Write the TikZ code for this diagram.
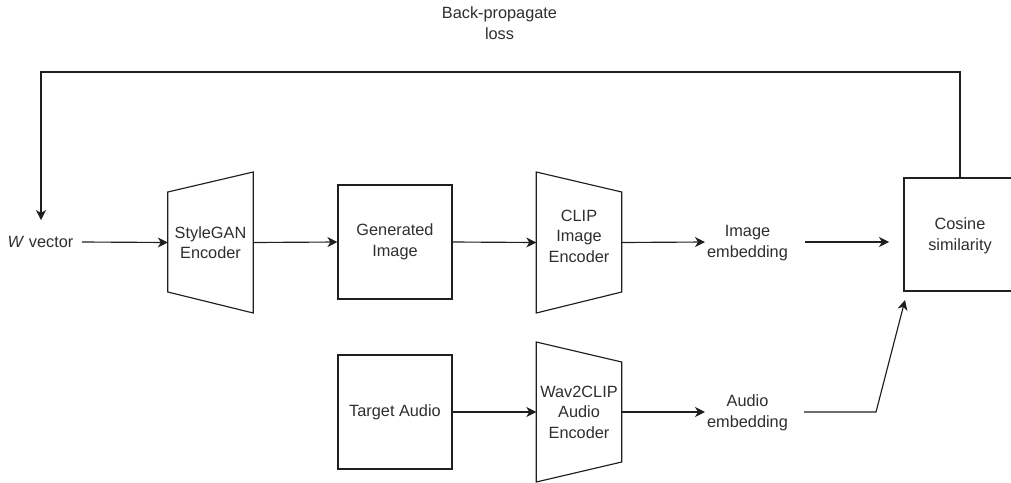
\documentclass[tikz,border=0pt]{standalone}
\usepackage{fontspec}
\setmainfont{Liberation Sans}
\usetikzlibrary{arrows.meta}
\begin{document}
\begin{tikzpicture}[x=1pt,y=-1pt,
  every node/.style={font=\fontsize{16.3}{20.5}\selectfont, text=black!82, align=center, inner sep=0pt},
  ln/.style={line width=1.15pt, draw=black!88},
  arr/.style={ln, -{Stealth[length=10pt,width=10pt,inset=3pt]}},
  boxnode/.style={draw=black!88, line width=1.15pt, minimum width=114pt, minimum height=114pt},
  trapnode/.style={minimum width=85pt, minimum height=141pt}
]
\useasboundingbox (0,0) rectangle (1011,482);
\clip (0,0) rectangle (1011,482);

% texts
\node (bp) at (499.5,23) {Back-propagate\\loss};
\node (wv) at (40.5,242) {\textit{W} vector};

% StyleGAN encoder (narrow left, wide right)
\node[trapnode] (sg) at (210.5,242.5) {};
\draw[ln] (sg.west |- 0,192) -- (sg.east |- 0,172) -- (sg.east |- 0,313) -- (sg.west |- 0,292) -- cycle;
\node (sgT) at (210.5,242.5) {StyleGAN\\Encoder};

% Generated image
\node[boxnode] (gi) at (395,242) {Generated\\Image};

% CLIP image encoder (wide left, narrow right)
\node[trapnode] (clip) at (579,242.5) {};
\draw[ln] (clip.west |- 0,172) -- (clip.east |- 0,192) -- (clip.east |- 0,292) -- (clip.west |- 0,313) -- cycle;
\node (clipT) at (579,236) {CLIP\\Image\\Encoder};

% Image embedding
\node (ie) at (747.5,243) {Image\\embedding};
\coordinate (ieL) at (705,242);
\coordinate (ieR) at (805,242);

% Cosine similarity
\node[draw=black!88, line width=1.15pt, minimum width=112pt, minimum height=113pt] (cs) at (960,234.5) {};
\node (csT) at (960,236) {Cosine\\similarity};
\coordinate (csIn) at (889,242);
\coordinate (csIn2) at (905,300);

% Target audio
\node[boxnode] (ta) at (395,412) {Target Audio};

% Wav2CLIP audio encoder
\node[trapnode] (w2c) at (579,412) {};
\draw[ln] (w2c.west |- 0,342) -- (w2c.east |- 0,362) -- (w2c.east |- 0,462) -- (w2c.west |- 0,482) -- cycle;
\node (w2cT) at (579,412) {Wav2CLIP\\Audio\\Encoder};

% Audio embedding
\node (ae) at (747.5,413) {Audio\\embedding};
\coordinate (aeL) at (705,412);
\coordinate (aeR) at (804,412);
\coordinate (aeBend) at (876,412);

% feedback
\coordinate (fbR) at (960,72);
\coordinate (fbL) at (41,72);
\coordinate (fbEnd) at (41,220);

% connectors
\draw[arr] (82,242) -- (sg.west);
\draw[arr] (sg.east) -- (gi.west);
\draw[arr] (gi.east) -- (clip.west);
\draw[arr] (clip.east) -- (ieL);
\draw[arr] (ieR) -- (csIn);
\draw[arr] (ta.east) -- (w2c.west);
\draw[arr] (w2c.east) -- (aeL);
\draw[arr] (aeR) -- (aeBend) -- (csIn2);
\draw[arr] (cs.north) -- (fbR) -- (fbL) -- (fbEnd);
\end{tikzpicture}
\end{document}
